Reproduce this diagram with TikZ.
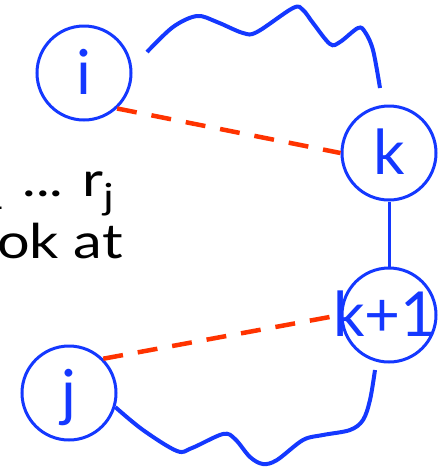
\documentclass[tikz,border=0pt]{standalone}
\usepackage{fontspec}
\setmainfont{Lato}
\newfontfamily\widefont[FakeStretch=1.2]{Lato}
\definecolor{nblue}{RGB}{20,56,255}
\definecolor{nred}{RGB}{255,51,0}
\newcommand{\subtx}[1]{\raisebox{-13pt}{\fontsize{36}{36}\selectfont #1}}
\begin{document}
\begin{tikzpicture}[x=1pt,y=-1pt,
  state/.style={circle,draw=nblue,line width=3pt,minimum size=94pt,inner sep=0pt,
    text=nblue,font=\fontsize{62}{62}\selectfont,text height=42pt,text depth=0pt},
  wave/.style={draw=nblue,line width=4pt},
  link/.style={draw=nblue,line width=3pt},
  pairline/.style={draw=nred,line width=4.5pt,dash pattern=on 20pt off 15pt},
  words/.style={anchor=base east,inner sep=0pt,text=black,font=\widefont\fontsize{48}{48}\selectfont}]
\useasboundingbox (0,0) rectangle (447,467);
\clip (0,0) rectangle (447,467);
\node[state] (i) at (84,73) {\makebox[0pt]{i}};
\node[state] (k) at (389,153) {\makebox[0pt]{k}};
\node[state] (kp) at (389,315) {\makebox[0pt]{\hspace*{-8pt}k+1}};
\node[state] (j) at (69,393) {\makebox[0pt]{j}};
\draw[link] (k) -- (kp);
\draw[pairline] (i.-47) -- (k.west);
\draw[pairline] (j.45) -- (kp.west);
\coordinate (ta) at (147,52);
\coordinate (tb) at (380,88);
\coordinate (be) at (375,370);
\draw[wave] plot[smooth,tension=0.55] coordinates {(ta) (173,27) (197,16) (217,22) (243,33) (257,32) (293,8) (303,10) (313,23) (330,44) (340,42) (358,28) (365,32) (373,50) (tb)};
\draw[wave] plot[smooth,tension=0.55] coordinates {(j.-17) (143,430) (177,451) (192,448) (223,434) (235,439) (250,457) (263,464) (277,460) (303,440) (323,435) (350,430) (363,420) (370,400) (be)};
\node[words] (t1) at (114,196) {r\subtx{i+1}\hspace{18pt}...\hspace{19pt}r\subtx{j}};
\node[words] (t2) at (123,258) {look at};
\end{tikzpicture}
\end{document}
